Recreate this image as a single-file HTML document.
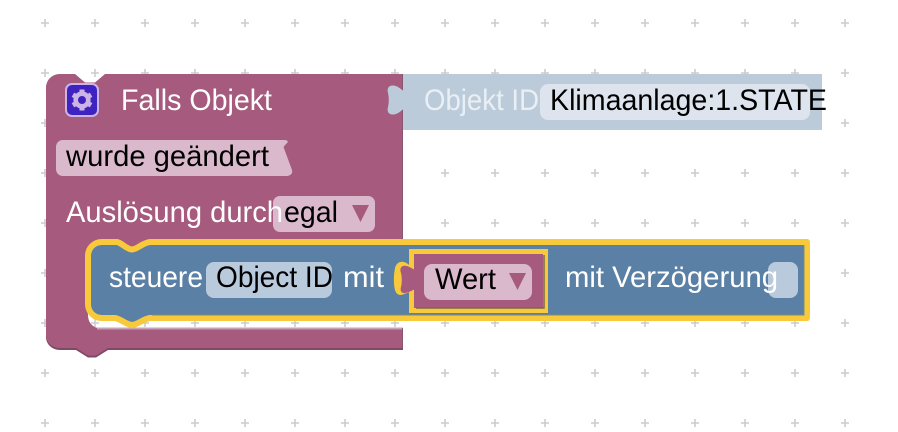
<!DOCTYPE html>
<html>
<head>
<meta charset="utf-8">
<style>
html,body{margin:0;padding:0;background:#fff;width:898px;height:432px;overflow:hidden}
svg{display:block}
text{font-family:"Liberation Sans",sans-serif;font-size:30px}
.w{fill:#fff}.k{fill:#000}
</style>
</head>
<body>
<svg width="898" height="432" viewBox="0 0 898 432" xmlns="http://www.w3.org/2000/svg">
<defs>
<path id="c" d="M-4 0H4M0 -4V4" stroke="#ccc" stroke-width="1.6"/>
<path id="main" d="M60 74H75L85 82.500H95L105 74H403V265H88V315C88 322 92 327 98 328H403V348H108L96 355.500H88L76 348H60C52 348 46 342 46 335V88C46 80 52 74 60 74Z"/>
</defs>
<g>
<use href="#c" x="45" y="23"/><use href="#c" x="95" y="23"/><use href="#c" x="145" y="23"/><use href="#c" x="195" y="23"/><use href="#c" x="245" y="23"/><use href="#c" x="295" y="23"/><use href="#c" x="345" y="23"/><use href="#c" x="395" y="23"/><use href="#c" x="445" y="23"/><use href="#c" x="495" y="23"/><use href="#c" x="545" y="23"/><use href="#c" x="595" y="23"/><use href="#c" x="645" y="23"/><use href="#c" x="695" y="23"/><use href="#c" x="745" y="23"/><use href="#c" x="795" y="23"/><use href="#c" x="845" y="23"/>
<use href="#c" x="45" y="73"/><use href="#c" x="95" y="73"/><use href="#c" x="145" y="73"/><use href="#c" x="195" y="73"/><use href="#c" x="245" y="73"/><use href="#c" x="295" y="73"/><use href="#c" x="345" y="73"/><use href="#c" x="395" y="73"/><use href="#c" x="445" y="73"/><use href="#c" x="495" y="73"/><use href="#c" x="545" y="73"/><use href="#c" x="595" y="73"/><use href="#c" x="645" y="73"/><use href="#c" x="695" y="73"/><use href="#c" x="745" y="73"/><use href="#c" x="795" y="73"/><use href="#c" x="845" y="73"/>
<use href="#c" x="45" y="123"/><use href="#c" x="845" y="123"/>
<use href="#c" x="445" y="173"/><use href="#c" x="495" y="173"/><use href="#c" x="545" y="173"/><use href="#c" x="595" y="173"/><use href="#c" x="645" y="173"/><use href="#c" x="695" y="173"/><use href="#c" x="745" y="173"/><use href="#c" x="795" y="173"/><use href="#c" x="845" y="173"/><use href="#c" x="45" y="173"/>
<use href="#c" x="445" y="223"/><use href="#c" x="495" y="223"/><use href="#c" x="545" y="223"/><use href="#c" x="595" y="223"/><use href="#c" x="645" y="223"/><use href="#c" x="695" y="223"/><use href="#c" x="745" y="223"/><use href="#c" x="795" y="223"/><use href="#c" x="845" y="223"/><use href="#c" x="45" y="223"/>
<use href="#c" x="45" y="273"/><use href="#c" x="845" y="273"/>
<use href="#c" x="45" y="323"/><use href="#c" x="95" y="323"/><use href="#c" x="145" y="323"/><use href="#c" x="195" y="323"/><use href="#c" x="245" y="323"/><use href="#c" x="295" y="323"/><use href="#c" x="345" y="323"/><use href="#c" x="395" y="323"/><use href="#c" x="445" y="323"/><use href="#c" x="495" y="323"/><use href="#c" x="545" y="323"/><use href="#c" x="595" y="323"/><use href="#c" x="645" y="323"/><use href="#c" x="695" y="323"/><use href="#c" x="745" y="323"/><use href="#c" x="795" y="323"/><use href="#c" x="845" y="323"/>
<use href="#c" x="45" y="373"/><use href="#c" x="95" y="373"/><use href="#c" x="145" y="373"/><use href="#c" x="195" y="373"/><use href="#c" x="245" y="373"/><use href="#c" x="295" y="373"/><use href="#c" x="345" y="373"/><use href="#c" x="395" y="373"/><use href="#c" x="445" y="373"/><use href="#c" x="495" y="373"/><use href="#c" x="545" y="373"/><use href="#c" x="595" y="373"/><use href="#c" x="645" y="373"/><use href="#c" x="695" y="373"/><use href="#c" x="745" y="373"/><use href="#c" x="795" y="373"/><use href="#c" x="845" y="373"/>
<use href="#c" x="45" y="423"/><use href="#c" x="95" y="423"/><use href="#c" x="145" y="423"/><use href="#c" x="195" y="423"/><use href="#c" x="245" y="423"/><use href="#c" x="295" y="423"/><use href="#c" x="345" y="423"/><use href="#c" x="395" y="423"/><use href="#c" x="445" y="423"/><use href="#c" x="495" y="423"/><use href="#c" x="545" y="423"/><use href="#c" x="595" y="423"/><use href="#c" x="645" y="423"/><use href="#c" x="695" y="423"/><use href="#c" x="745" y="423"/><use href="#c" x="795" y="423"/><use href="#c" x="845" y="423"/>
</g>

<!-- light shadow block -->
<path d="M403 74H822V130H403Z" fill="#bccbda"/>

<!-- outer purple block -->
<use href="#main" y="2" fill="#7f4a66"/>
<use href="#main" fill="#a55a7e"/>
<path d="M97 327.500H403V329.500H97Z" fill="#c8a3b6"/>
<path d="M402.500 74V239M402.500 328V348" stroke="#8a5570" stroke-width="1" fill="none"/>

<!-- tab of the light block -->
<path d="M403.500 91C400 88 396 85 392 85.500C388 86 387 89 388 93C389 97 389 103 388 107C387 111 388 114 392 114.500C396 115 400 112 403.500 109Z" fill="#bccbda"/>

<!-- gear icon -->
<rect x="66" y="84" width="32" height="32" rx="6" fill="#3f23c0" stroke="#cdb4e6" stroke-width="2"/>
<g transform="translate(82 100)">
<circle r="6.300" fill="none" stroke="#cdb4e6" stroke-width="4.600"/>
<path d="M-2.500 -10.500H2.500V-6H-2.500ZM-2.500 6H2.500V10.500H-2.500Z" fill="#cdb4e6"/>
<path d="M-2.500 -10.500H2.500V-6H-2.500ZM-2.500 6H2.500V10.500H-2.500Z" fill="#cdb4e6" transform="rotate(60)"/>
<path d="M-2.500 -10.500H2.500V-6H-2.500ZM-2.500 6H2.500V10.500H-2.500Z" fill="#cdb4e6" transform="rotate(120)"/>
</g>

<text class="w" x="121" y="110" textLength="151" lengthAdjust="spacingAndGlyphs">Falls Objekt</text>

<!-- wurde geändert -->
<path d="M63 140H284C288 140 289 142 286 144L283.500 147L292 170C293 174 290 176 286 176H63C59 176 56 173 56 169V147C56 143 59 140 63 140Z" fill="#dbb9cc"/>
<text class="k" x="66" y="166" textLength="203" lengthAdjust="spacingAndGlyphs">wurde geändert</text>

<rect x="273" y="196" width="102" height="36" rx="7" fill="#dbb9cc"/>
<text class="w" x="66" y="222" textLength="217" lengthAdjust="spacingAndGlyphs">Auslösung durch</text>
<text class="k" x="284" y="222" textLength="54" lengthAdjust="spacingAndGlyphs">egal</text>
<path d="M352 205H369L360.500 222Z" fill="#a55a7e"/>

<!-- blue statement block with yellow outline -->
<path d="M102 242H117C122 243 126 249 132 249.500C138 249 142 243 150 242H807V318H150C143 319 138 324.500 132 325C126 324.500 121 319 115 318H102C94 318 88 312 88 304V256C88 248 94 242 102 242Z" fill="#5b80a5" stroke="#f9c93c" stroke-width="6" stroke-linejoin="round"/>
<path d="M804 245V315H152" fill="none" stroke="#7d8c7c" stroke-width="1"/>

<text class="w" x="109" y="287" textLength="94" lengthAdjust="spacingAndGlyphs">steuere</text>
<rect x="206" y="262" width="126" height="36" rx="8" fill="#b9cadc"/>
<text class="k" x="216" y="287" textLength="117" lengthAdjust="spacingAndGlyphs">Object ID</text>
<text class="w" x="343" y="287" textLength="41" lengthAdjust="spacingAndGlyphs">mit</text>

<!-- Wert block -->
<path d="M410 266C405 260 397 260 395 268C393.500 275 393.500 285 395 290C396.500 295 400 296 404 294L410 292Z" fill="#f9c93c"/>
<rect x="411.500" y="251.500" width="134" height="59" fill="#a55a7e" stroke="#f9c93c" stroke-width="5"/>
<path d="M415 270C411 268 407 265 403 266C400 267 400 270 401 273C402 277 402 283 401 287C400 290 401 293 404 293C408 293 411 291 415 289Z" fill="#a55a7e"/>
<path d="M544 255V308H416" fill="none" stroke="#7a6a4a" stroke-width="1.500"/>
<rect x="424" y="264" width="108" height="36" rx="8" fill="#dbb9cc"/>
<text class="k" x="435" y="289" textLength="61" lengthAdjust="spacingAndGlyphs">Wert</text>
<path d="M509 273H526L517.500 290Z" fill="#a55a7e"/>

<!-- delay -->
<rect x="768" y="262" width="30" height="36" rx="8" fill="#b9cadc"/>
<text class="w" x="565" y="287" textLength="213" lengthAdjust="spacingAndGlyphs">mit Verzögerung</text>

<!-- object id field -->
<text x="424" y="110" textLength="115" lengthAdjust="spacingAndGlyphs" fill="#e9eff5">Objekt ID</text>
<rect x="540" y="84" width="270" height="36" rx="8" fill="#dde4ed"/>
<text class="k" x="550" y="110" textLength="277" lengthAdjust="spacingAndGlyphs">Klimaanlage:1.STATE</text>
</svg>
</body>
</html>
